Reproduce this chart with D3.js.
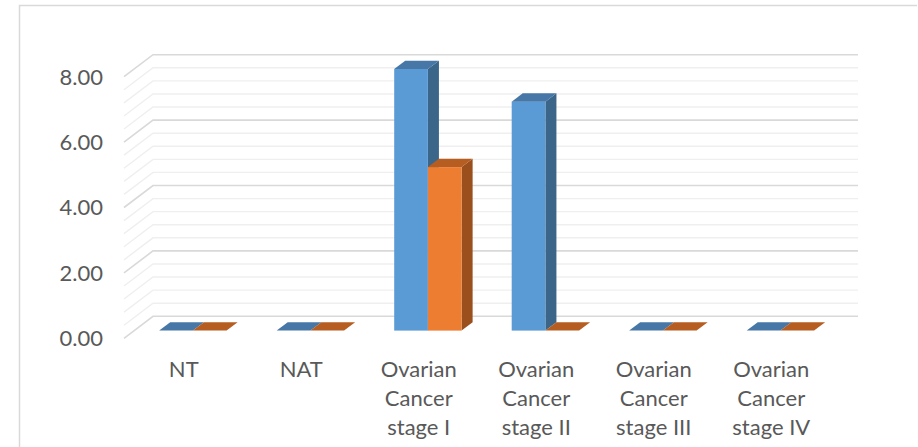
<!DOCTYPE html>
<html><head><meta charset="utf-8">
<script src="https://cdn.jsdelivr.net/npm/d3@7"></script>
<style>body{margin:0;background:#fff} svg{display:block}</style>
</head><body>
<svg id="chart" width="918" height="447"></svg>
<script>
// Category names, series values and axis ticks
const categories = ["NT", "NAT", "Ovarian Cancer stage I", "Ovarian Cancer stage II", "Ovarian Cancer stage III", "Ovarian Cancer stage IV"];
const seriesNames = ["Series 1", "Series 2"];
const series1 = [0, 0, 8, 7, 0, 0];
const series2 = [0, 0, 5, 0, 0, 0];
const yTicks = [0, 2, 4, 6, 8];
const yMax = 8;
const minorStep = 0.4;

const svg = d3.select("#chart");

// Oblique 3-D projection: front plane plus a depth vector
const DX = 29, DY = -22;
const frontLeft = 124, frontRight = 829;
const y = d3.scaleLinear().domain([0, yMax]).range([338.3, 76.7]);
const x0 = d3.scaleBand().domain(categories).range([frontLeft, frontRight]);
const x1 = d3.scaleBand().domain(seriesNames).range([0, x0.bandwidth()]).paddingOuter(0.743);

// Chart frame
svg.append("path")
  .attr("d", `M19.5,${447}V5.5H${917}`)
  .attr("fill", "none").attr("stroke", "#d9d9d9").attr("stroke-width", 1.5);

// Side and back wall gridlines
const gridVals = d3.range(0, yMax + 1e-6, minorStep);
svg.append("g").selectAll("path").data(gridVals).join("path")
  .attr("d", v => {
    const yf = y(v);
    return `M${frontLeft},${yf}L${frontLeft + DX},${yf + DY}H${frontRight + DX}`;
  })
  .attr("fill", "none")
  .attr("stroke", v => Math.abs(v / 2 - Math.round(v / 2)) < 1e-6 ? "#d9d9d9" : "#efefef")
  .attr("stroke-width", v => Math.abs(v / 2 - Math.round(v / 2)) < 1e-6 ? 1.6 : 1.4);

// Y axis labels
svg.append("g").selectAll("text").data(yTicks).join("text")
  .attr("x", 103).attr("y", d => y(d)).attr("dy", "0.36em")
  .attr("text-anchor", "end")
  .attr("font-family", "Lato, sans-serif").attr("font-size", 22)
  .attr("fill", "#595959")
  .text(d => d3.format(".2f")(d));

// Columns
const f0 = 0.35, bd = 0.38;
const ddx = bd * DX, ddy = bd * DY;
const colors = {
  "Series 1": { front: "#5b9bd5", top: "#4677a6", side: "#3b6589" },
  "Series 2": { front: "#ed7d31", top: "#b65d21", side: "#9a4f1d" }
};
const bars = [];
categories.forEach((c, i) => {
  bars.push({ cat: c, s: seriesNames[0], v: series1[i] });
  bars.push({ cat: c, s: seriesNames[1], v: series2[i] });
});

const w = x1.bandwidth();
const gBars = svg.append("g");
bars.forEach(b => {
  const xl = x0(b.cat) + x1(b.s) + f0 * DX;
  const yb = y(0) + f0 * DY;
  const yt = y(b.v) + f0 * DY;
  const col = colors[b.s];
  const g = gBars.append("g");
  if (b.v > 0) {
    g.append("path")
      .attr("d", `M${xl + w},${yt}L${xl + w + ddx},${yt + ddy}V${yb + ddy}L${xl + w},${yb}Z`)
      .attr("fill", col.side);
    g.append("rect")
      .attr("x", xl).attr("y", yt).attr("width", w).attr("height", yb - yt)
      .attr("fill", col.front);
  }
  g.append("path")
    .attr("d", `M${xl},${yt}H${xl + w}L${xl + w + ddx},${yt + ddy}H${xl + ddx}Z`)
    .attr("fill", col.top);
});

// Category labels, wrapped to the band width
const lab = svg.append("g")
  .attr("font-family", "Lato, sans-serif").attr("font-size", 22).attr("fill", "#595959")
  .attr("text-anchor", "middle");
categories.forEach(c => {
  const t = lab.append("text").attr("x", x0(c) + x0.bandwidth() / 2 + 1).attr("y", 369.5).attr("dy", "0.36em");
  const words = c.split(" ");
  let lines = [], cur = "";
  const probe = lab.append("text").attr("visibility", "hidden");
  words.forEach(wd => {
    const trial = cur ? cur + " " + wd : wd;
    probe.text(trial);
    if (cur && probe.node().getComputedTextLength() > x0.bandwidth() - 8) {
      lines.push(cur); cur = wd;
    } else cur = trial;
  });
  lines.push(cur);
  probe.remove();
  lines.forEach((ln, k) => {
    t.append("tspan").attr("x", x0(c) + x0.bandwidth() / 2 + 1).attr("dy", k === 0 ? "0.36em" : 29).text(ln);
  });
  t.attr("dy", null);
});
</script>
</body></html>
